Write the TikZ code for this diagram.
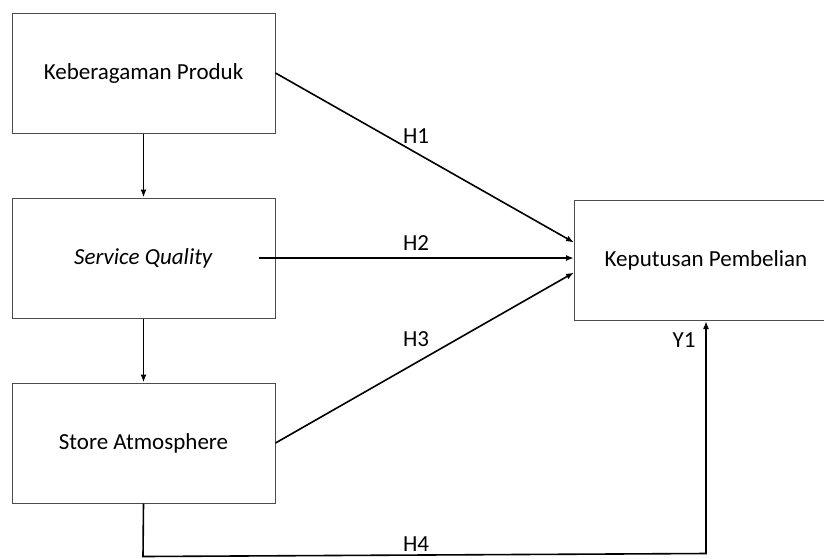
\documentclass[tikz,border=0pt]{standalone}
\usepackage{fontspec}
\setmainfont{Carlito}
\usetikzlibrary{arrows.meta}

\begin{document}
\begin{tikzpicture}
[x=1pt,y=-1pt,>={Latex[length=8pt,width=6pt]},
 var/.style={draw=black!70,line width=1pt,minimum width=263pt,minimum height=120pt,inner sep=0pt,font=\fontsize{23}{27}\selectfont},
 link/.style={->,line width=1.6pt},
 hyp/.style={font=\fontsize{23}{27}\selectfont,inner sep=0pt}]

\useasboundingbox (0,0) rectangle (824,558);
\clip (0,0) rectangle (824,558);

% the variables
\node[var] (kp) at (143.5,73) {Keberagaman Produk};
\node[var] (sq) at (143.5,258) {\textit{Service Quality}};
\node[var] (sa) at (143.5,443) {Store Atmosphere};
\node[var] (kb) at (706,260.5) {Keputusan Pembelian};

% the helper points
\coordinate (sqin) at (259,258);
\coordinate (d1) at (143,556.5);
\coordinate (d2) at (706,553.5);

% the paths between the boxes
\draw[link] (kp) -- (sq);
\draw[link] (sq) -- (sa);
\draw[link] (kp.east) -- ([yshift=18pt]kb.west);
\draw[link] (sqin) -- (sqin -| kb.west);
\draw[link] (sa.east) -- ([yshift=-12pt]kb.west);
\draw[link] (sa.south) -- (d1) -- (d2) -- (kb.south);

% the labels
\node[hyp] (h1) at (416,136) {H1};
\node[hyp] (h2) at (416,243) {H2};
\node[hyp] (h3) at (416,339) {H3};
\node[hyp] (h4) at (416,544) {H4};
\node[hyp] (y1) at (684,340) {Y1};

\end{tikzpicture}
\end{document}
